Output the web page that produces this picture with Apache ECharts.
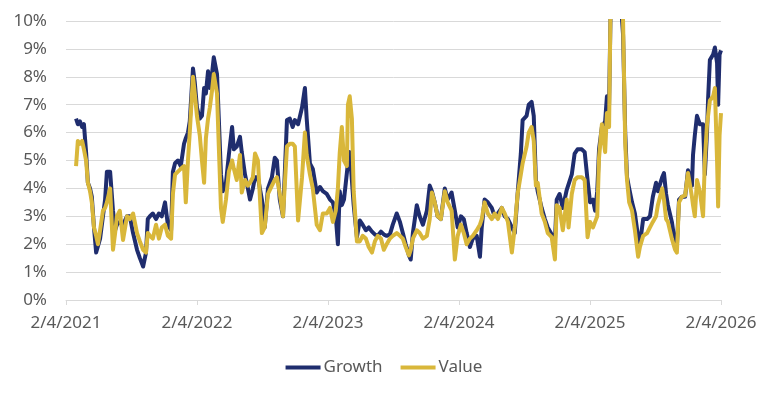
<!DOCTYPE html>
<html>
<head>
<meta charset="utf-8">
<script src="https://cdn.jsdelivr.net/npm/echarts@6/dist/echarts.min.js"></script>
<style>
html,body{margin:0;padding:0;background:#fff;}
#chart{width:768px;height:395px;}
</style>
</head>
<body>
<div id="chart"></div>
<script>
const dates = [
'2021-03-04','2021-03-09','2021-03-15','2021-03-21','2021-03-26','2021-04-01','2021-04-06','2021-04-12','2021-04-17','2021-04-23',
'2021-04-29','2021-05-04','2021-05-10','2021-05-18','2021-05-24','2021-05-29','2021-06-07','2021-06-15','2021-06-21','2021-06-26',
'2021-07-04','2021-07-13','2021-07-24','2021-08-01','2021-08-10','2021-08-21','2021-08-29','2021-09-07','2021-09-15','2021-09-20',
'2021-09-26','2021-10-04','2021-10-13','2021-10-21','2021-10-29','2021-11-07','2021-11-15','2021-11-24','2021-11-29','2021-12-05',
'2021-12-13','2021-12-21','2021-12-30','2022-01-04','2022-01-10','2022-01-15','2022-01-24','2022-01-29','2022-02-04','2022-02-12',
'2022-02-18','2022-02-24','2022-03-01','2022-03-07','2022-03-12','2022-03-18','2022-03-23','2022-04-01','2022-04-06','2022-04-12',
'2022-04-17','2022-04-26','2022-05-04','2022-05-13','2022-05-18','2022-05-26','2022-06-04','2022-06-09','2022-06-18','2022-06-26',
'2022-07-02','2022-07-10','2022-07-16','2022-07-24','2022-08-04','2022-08-12','2022-08-21','2022-09-01','2022-09-09','2022-09-15',
'2022-09-23','2022-10-02','2022-10-13','2022-10-21','2022-10-29','2022-11-04','2022-11-13','2022-11-24','2022-12-02','2022-12-07',
'2022-12-16','2022-12-24','2023-01-04','2023-01-13','2023-01-21','2023-02-01','2023-02-10','2023-02-18','2023-02-26','2023-03-04',
'2023-03-09','2023-03-15','2023-03-21','2023-03-29','2023-04-01','2023-04-06','2023-04-12','2023-04-17','2023-04-26','2023-05-04',
'2023-05-12','2023-05-21','2023-05-29','2023-06-07','2023-06-15','2023-06-23','2023-07-02','2023-07-10','2023-07-18','2023-07-27',
'2023-08-04','2023-08-15','2023-08-24','2023-09-01','2023-09-09','2023-09-18','2023-09-23','2023-09-29','2023-10-10','2023-10-18',
'2023-10-27','2023-11-07','2023-11-15','2023-11-21','2023-11-29','2023-12-07','2023-12-16','2023-12-27','2024-01-04','2024-01-15',
'2024-01-24','2024-02-01','2024-02-10','2024-02-18','2024-02-26','2024-03-06','2024-03-14','2024-03-25','2024-04-03','2024-04-08',
'2024-04-16','2024-04-25','2024-05-06','2024-05-14','2024-05-23','2024-06-03','2024-06-11','2024-06-20','2024-07-01','2024-07-09',
'2024-07-17','2024-07-26','2024-07-31','2024-08-11','2024-08-17','2024-08-25','2024-08-31','2024-09-06','2024-09-11','2024-09-22',
'2024-10-01','2024-10-09','2024-10-20','2024-10-29','2024-11-03','2024-11-11','2024-11-20','2024-12-01','2024-12-06','2024-12-15',
'2024-12-23','2024-12-31','2025-01-12','2025-01-20','2025-01-28','2025-02-04','2025-02-12','2025-02-18','2025-02-24','2025-03-01',
'2025-03-09','2025-03-18','2025-03-23','2025-03-29','2025-04-03','2025-04-12','2025-04-20','2025-04-29','2025-05-07','2025-05-13',
'2025-05-18','2025-05-24','2025-06-01','2025-06-09','2025-06-18','2025-06-23','2025-07-02','2025-07-13','2025-07-21','2025-07-29',
'2025-08-07','2025-08-12','2025-08-24','2025-08-29','2025-09-04','2025-09-09','2025-09-20','2025-09-29','2025-10-04','2025-10-10',
'2025-10-18','2025-10-27','2025-11-04','2025-11-15','2025-11-18','2025-11-23','2025-11-29','2025-12-07','2025-12-16','2025-12-21',
'2025-12-27','2025-12-30','2026-01-04','2026-01-13','2026-01-18','2026-01-24','2026-01-27','2026-01-31','2026-02-04'
];
const growth = [
6.5,6.3,6.4,6.2,6.3,5.3,4.2,4.0,3.7,2.6,
1.7,1.7,2.2,3.0,3.6,4.6,4.6,3.2,2.5,2.7,
2.8,2.7,3.0,3.0,2.4,1.8,1.5,1.2,1.7,2.9,
3.0,3.1,2.9,3.1,3.0,3.5,2.7,2.5,4.6,4.9,
5.0,4.8,5.6,5.8,6.0,6.4,8.3,7.8,6.9,6.5,
6.6,7.6,7.4,8.2,7.6,8.1,8.7,8.1,6.5,4.5,
3.9,4.2,5.2,6.2,5.4,5.5,5.85,5.3,4.5,4.0,
3.6,4.0,4.4,4.4,3.6,2.6,4.0,4.4,5.1,5.0,
3.6,3.0,6.45,6.5,6.2,6.45,6.3,6.9,7.6,6.5,
4.9,4.7,3.85,4.05,3.9,3.8,3.6,3.5,3.0,2.0,
3.9,3.4,3.6,4.55,4.9,5.3,4.3,3.4,2.25,2.85,
2.7,2.5,2.6,2.45,2.35,2.3,2.45,2.35,2.3,2.35,
2.7,3.1,2.8,2.4,2.0,1.6,1.45,2.4,3.4,3.0,
2.7,3.2,4.1,3.9,3.5,3.0,2.9,4.0,3.6,3.85,
3.2,2.6,3.0,2.9,2.4,1.9,2.2,2.3,1.55,2.6,
3.6,3.5,3.3,3.0,3.1,3.3,3.0,2.9,2.6,2.4,
3.8,5.25,6.45,6.6,7.0,7.1,6.6,4.3,3.9,3.3,
2.9,2.6,2.35,2.1,3.6,3.8,3.3,3.95,4.0,4.5,
5.25,5.4,5.4,5.3,4.3,3.5,3.6,3.2,3.9,5.4,
6.2,6.4,7.3,7.0,11,13,12.5,11,9.5,6.0,
4.4,4.0,3.5,3.1,2.25,2.0,2.9,2.9,3.0,3.7,
4.2,3.9,4.4,4.55,3.8,3.4,2.8,2.0,1.9,3.6,
3.7,3.7,4.65,4.1,5.2,5.9,6.6,6.3,6.3,4.5,
6.0,7.2,8.6,8.8,9.05,8.5,7.0,8.8,8.95
];
const value = [
4.8,5.7,5.6,5.7,5.4,5.0,4.2,3.9,3.5,2.6,
2.3,2.0,2.5,3.2,3.3,3.5,4.0,1.8,2.4,3.0,
3.2,2.15,3.0,2.9,3.1,2.4,2.1,1.8,1.7,2.4,
2.3,2.2,2.7,2.2,2.6,2.7,2.3,2.2,3.8,4.5,
4.6,4.7,4.8,3.5,5.0,6.0,8.0,7.4,6.6,5.9,
5.0,4.2,5.8,6.5,6.9,7.5,8.1,7.4,5.5,3.3,
2.8,3.6,4.6,5.0,4.7,4.3,5.2,3.85,4.3,4.1,
4.2,4.4,5.25,5.0,2.4,2.6,3.8,4.1,4.3,4.4,
3.8,3.0,5.5,5.6,5.6,5.5,2.85,4.4,6.0,5.2,
4.5,4.0,2.7,2.5,3.1,3.1,3.3,2.8,3.2,4.0,
5.25,6.2,5.0,4.8,7.0,7.3,6.5,3.9,2.1,2.1,
2.3,2.2,1.9,1.7,2.1,2.3,2.2,1.8,2.0,2.2,
2.3,2.4,2.3,2.2,1.9,1.6,1.8,2.2,2.5,2.4,
2.2,2.3,2.9,3.85,3.5,3.0,2.9,3.9,3.5,3.2,
1.45,2.3,2.7,2.4,2.0,2.2,2.3,2.5,2.7,2.9,
3.5,3.1,2.9,3.1,2.9,3.3,3.1,2.8,1.7,2.6,
3.8,4.5,4.9,5.5,6.0,6.2,5.7,4.1,4.2,3.1,
2.8,2.4,2.25,1.45,3.4,3.3,2.5,3.6,2.6,3.8,
4.3,4.4,4.4,4.3,2.25,2.8,2.6,2.8,3.0,5.1,
6.3,5.3,6.7,6.2,11.5,14,13.5,12,10,5.6,
4.3,3.5,3.2,2.5,1.55,1.9,2.3,2.4,2.6,2.8,
3.0,3.4,4.0,3.6,2.9,2.8,2.2,1.8,1.7,3.5,
3.7,3.75,4.55,3.7,3.4,3.0,4.3,3.9,3.0,5.0,
6.3,6.6,7.15,7.3,7.6,5.0,3.35,5.9,6.7
];
const xTickLabels = ['2/4/2021','2/4/2022','2/4/2023','2/4/2024','2/4/2025','2/4/2026'];
const seriesNames = ['Growth','Value'];
const yMin = 0, yMax = 10, yStep = 1;

const base = Date.parse('2021-02-04T00:00:00Z');
const dayOf = d => (Date.parse(d + 'T00:00:00Z') - base) / 86400000;
const yearSpan = 365.2; // days between yearly ticks (5 ticks over 1826 days)
const gData = dates.map((d, i) => [dayOf(d), growth[i]]);
const vData = dates.map((d, i) => [dayOf(d), value[i]]);

const txt = '#595959';
const fontFam = '"Noto Sans", "Open Sans", sans-serif';
const chart = echarts.init(document.getElementById('chart'), null, {renderer: 'canvas'});
chart.setOption({
  animation: false,
  backgroundColor: '#ffffff',
  grid: {left: 66, right: 47, top: 21, bottom: 95, containLabel: false},
  legend: {
    data: seriesNames,
    bottom: 14,
    left: 'center',
    icon: 'rect',
    itemWidth: 35,
    itemHeight: 4,
    itemGap: 18,
    textStyle: {color: txt, fontSize: 17, fontFamily: fontFam, padding: [0, 0, 0, -2]}
  },
  xAxis: {
    type: 'value',
    min: 0,
    max: 1826,
    interval: yearSpan,
    axisLine: {show: true, lineStyle: {color: '#D9D9D9', width: 1}},
    axisTick: {show: true, length: 5, lineStyle: {color: '#D9D9D9'}},
    splitLine: {show: false},
    axisLabel: {
      color: txt, fontSize: 17, fontFamily: fontFam, margin: 15,
      formatter: v => xTickLabels[Math.round(v / yearSpan)] || ''
    }
  },
  yAxis: {
    type: 'value',
    min: yMin, max: yMax, interval: yStep,
    axisLine: {show: false},
    axisTick: {show: false},
    splitLine: {lineStyle: {color: '#D9D9D9', width: 1}},
    axisLabel: {color: txt, fontSize: 17, fontFamily: fontFam, margin: 19, formatter: '{value}%'}
  },
  series: [
    {name: seriesNames[0], type: 'line', data: gData, showSymbol: false, symbol: 'none',
     lineStyle: {color: '#1F2D6E', width: 4, join: 'round'}, itemStyle: {color: '#1F2D6E'}, clip: true},
    {name: seriesNames[1], type: 'line', data: vData, showSymbol: false, symbol: 'none',
     lineStyle: {color: '#D9B73A', width: 4, join: 'round'}, itemStyle: {color: '#D9B73A'}, clip: true}
  ]
});
</script>
</body>
</html>
